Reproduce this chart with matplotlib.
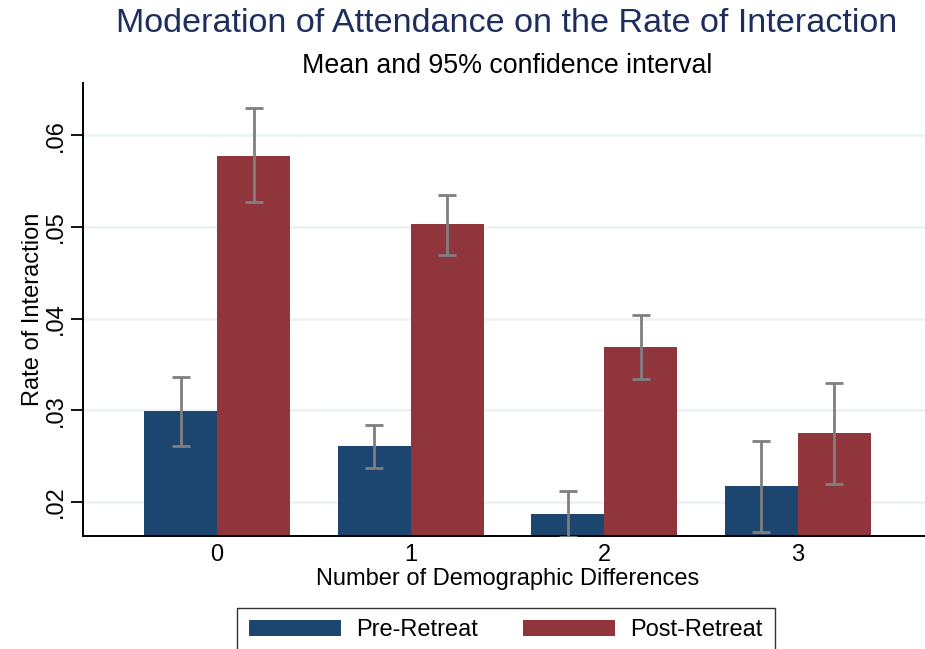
import matplotlib
matplotlib.use("Agg")
import matplotlib.pyplot as plt
from matplotlib.patches import Patch
import numpy as np

# Data: mean rate of interaction with 95% CI, by number of demographic differences
categories = ["0", "1", "2", "3"]
series_names = ["Pre-Retreat", "Post-Retreat"]
pre_mean = [0.0299, 0.0261, 0.0187, 0.0217]
pre_lo = [0.0261, 0.0237, 0.0162, 0.0167]
pre_hi = [0.0336, 0.0284, 0.0212, 0.0266]
post_mean = [0.0578, 0.0503, 0.0369, 0.0275]
post_lo = [0.0527, 0.0469, 0.0334, 0.0219]
post_hi = [0.0630, 0.0535, 0.0404, 0.0330]
yticks = [0.02, 0.03, 0.04, 0.05, 0.06]
ytick_labels = [".02", ".03", ".04", ".05", ".06"]

navy = "#1c466f"
maroon = "#90353b"
ci_color = "#7f7f7f"
grid_color = "#eaf2f3"

plt.rcParams["font.family"] = ["Liberation Sans", "DejaVu Sans"]

W, H = 925, 649
fig = plt.figure(figsize=(W / 100, H / 100), dpi=100)
fig.patch.set_facecolor("white")

# axes rectangle in pixel terms
ax_left, ax_right, ax_top, ax_bot = 83.3, 931.4, 83.3, 536.0
ax = fig.add_axes([ax_left / W, 1 - ax_bot / H, (ax_right - ax_left) / W, (ax_bot - ax_top) / H])

x = np.arange(len(categories))
bw = 0.377
off = bw / 2

ax.bar(x - off, pre_mean, width=bw, color=navy, zorder=2, linewidth=0)
ax.bar(x + off, post_mean, width=bw, color=maroon, zorder=2, linewidth=0)

def ci_bars(xpos, mean, lo, hi):
    mean = np.array(mean)
    yerr = np.vstack([mean - np.array(lo), np.array(hi) - mean])
    ax.errorbar(xpos, mean, yerr=yerr, fmt="none", ecolor=ci_color,
                elinewidth=2.0, capsize=6.5, capthick=2.0, zorder=3)

ci_bars(x - off, pre_mean, pre_lo, pre_hi)
ci_bars(x + off, post_mean, post_lo, post_hi)

ax.set_xlim(-0.691, 3.691)
ax.set_ylim(0.01626, 0.0657)
ax.set_yticks(yticks)
ax.set_yticklabels(ytick_labels, rotation=90, va="center", fontsize=17)
ax.set_xticks(x)
ax.set_xticklabels(categories, fontsize=17)
ax.tick_params(axis="x", length=0, pad=6)
ax.tick_params(axis="y", length=9, width=1.3, pad=3, direction="out")

ax.yaxis.grid(True, color=grid_color, linewidth=1.8, zorder=0)
ax.set_axisbelow(True)

for s in ["top", "right"]:
    ax.spines[s].set_visible(False)
for s in ["left", "bottom"]:
    ax.spines[s].set_linewidth(1.4)
    ax.spines[s].set_color("black")

ax.set_ylabel("Rate of Interaction", fontsize=17, labelpad=0.5)
ax.set_xlabel("Number of Demographic Differences", fontsize=17, labelpad=1)

fig.text(507 / W, 1 - 24 / H, "Moderation of Attendance on the Rate of Interaction",
         ha="center", va="center", fontsize=24.6, color="#1e2e5c")
fig.text(507 / W, 1 - 66 / H, "Mean and 95% confidence interval",
         ha="center", va="center", fontsize=19.3, color="black")

handles = [Patch(facecolor=navy, edgecolor="none"), Patch(facecolor=maroon, edgecolor="none")]
leg = fig.legend(handles, series_names, loc="upper center",
                 bbox_to_anchor=(506 / W, 1 - 607.5 / H), ncol=2, fontsize=17,
                 frameon=True, fancybox=False, shadow=False,
                 handlelength=3.9, handleheight=0.68, handletextpad=0.64,
                 columnspacing=1.9, borderpad=0.5, borderaxespad=0)
leg.get_frame().set_edgecolor("black")
leg.get_frame().set_linewidth(1.0)

fig.savefig("out.png", dpi=100, facecolor="white")
